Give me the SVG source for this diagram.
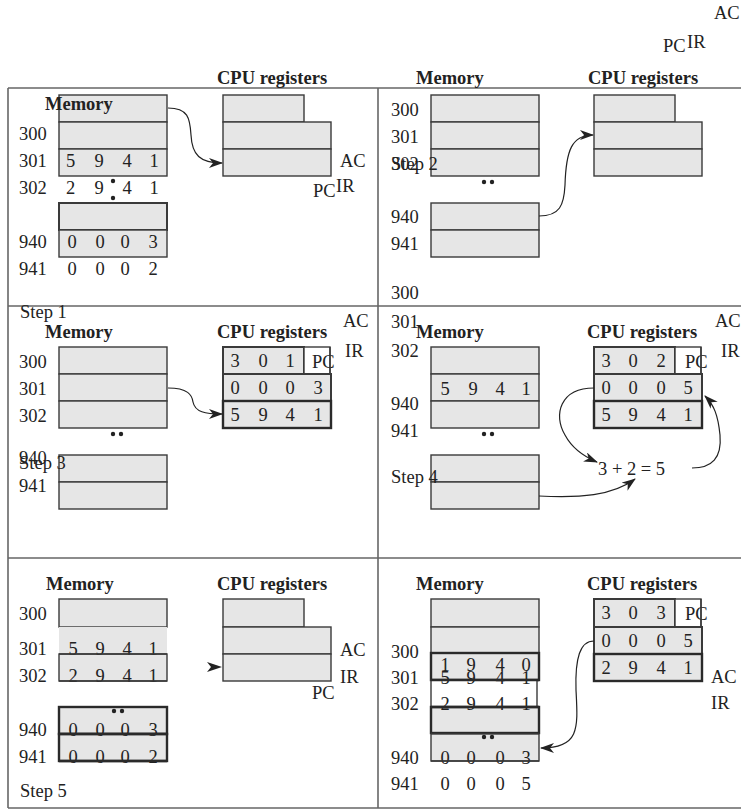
<svg xmlns="http://www.w3.org/2000/svg" width="741" height="810" viewBox="0 0 741 810">
<style>
.f{stroke:#666;stroke-width:1.6;fill:none}
.b{fill:#e6e6e6;stroke:#3a3a3a;stroke-width:1.4}
.bt{fill:#e6e6e6;stroke:#2a2a2a;stroke-width:2.4}
.w{fill:#fff;stroke:#3a3a3a;stroke-width:1.4}
.g{fill:#e6e6e6;stroke:none}
text{font-family:"Liberation Serif","Times New Roman",serif;font-size:18.5px;fill:#222}
.h{font-weight:bold}
.c{stroke:#222;stroke-width:1.2;fill:none;marker-end:url(#ah)}
.dot{fill:#222}
.ln{stroke:#3a3a3a;stroke-width:1.4}
.lt{stroke:#2a2a2a;stroke-width:2.4}
</style>
<defs>
<marker id="ah" markerWidth="14" markerHeight="10" refX="13" refY="5" orient="auto" markerUnits="userSpaceOnUse">
<path d="M0,0 L14,5 L0,10 L4,5 z" fill="#222"/>
</marker>
</defs>
<rect width="741" height="810" fill="#fff"/>
<g id="frame">
<line class="f" x1="8" y1="88" x2="741" y2="88"/>
<line class="f" x1="8" y1="88" x2="8" y2="808"/>
<line class="f" x1="378" y1="88" x2="378" y2="808"/>
<line class="f" x1="8" y1="306" x2="741" y2="306"/>
<line class="f" x1="8" y1="558" x2="741" y2="558"/>
<line class="f" x1="8" y1="808" x2="741" y2="808"/>
</g>
<g id="top-labels">
<text x="714" y="19">AC</text>
<text x="663" y="52">PC</text>
<text x="687" y="48">IR</text>
</g>
<g id="step1">
<rect class="b" x="59" y="95" width="108" height="27"/>
<rect class="b" x="59" y="122" width="108" height="27"/>
<rect class="b" x="59" y="149" width="108" height="27"/>
<rect class="b" x="59" y="203" width="108" height="27" style="stroke-width:2"/>
<rect class="b" x="59" y="230" width="108" height="27"/>
<text class="h" x="45" y="110">Memory</text>
<text class="h" x="217" y="84">CPU registers</text>
<text x="19" y="140">300</text>
<text x="19" y="167">301</text>
<text x="66 94.5 122.5 149.5" y="167">5941</text>
<text x="19" y="194">302</text>
<text x="66 94.5 122.5 149.5" y="194">2941</text>
<circle class="dot" cx="113" cy="181" r="2.2"/>
<circle class="dot" cx="113" cy="198" r="2.2"/>
<text x="19" y="248">940</text>
<text x="67.5 95.5 120.5 148.5" y="248">0003</text>
<text x="19" y="275">941</text>
<text x="67.5 95.5 120.5 148.5" y="275">0002</text>
<rect class="b" x="223" y="95" width="81" height="27"/>
<rect class="b" x="223" y="122" width="108" height="27"/>
<rect class="b" x="223" y="149" width="108" height="27"/>
<text x="340" y="167">AC</text>
<text x="313" y="197">PC</text>
<text x="336" y="192">IR</text>
</g>
<g id="step2">
<rect class="b" x="431" y="95" width="108" height="27"/>
<rect class="b" x="431" y="122" width="108" height="27"/>
<rect class="b" x="431" y="149" width="108" height="27"/>
<rect class="b" x="431" y="203" width="108" height="27"/>
<rect class="b" x="431" y="230" width="108" height="27"/>
<text class="h" x="416" y="84">Memory</text>
<text class="h" x="588" y="84">CPU registers</text>
<text x="391" y="116">300</text>
<text x="391" y="143">301</text>
<text x="391" y="170">302</text>
<text x="391" y="170">Step 2</text>
<circle class="dot" cx="484" cy="182" r="2.2"/>
<circle class="dot" cx="492" cy="182" r="2.2"/>
<text x="391" y="223">940</text>
<text x="391" y="250">941</text>
<text x="391" y="299">300</text>
<rect class="b" x="594" y="95" width="81" height="27"/>
<rect class="b" x="594" y="122" width="108" height="27"/>
<rect class="b" x="594" y="149" width="108" height="27"/>
</g>
<g id="step3">
<text x="20" y="318">Step 1</text>
<text class="h" x="45" y="338">Memory</text>
<text class="h" x="217" y="338">CPU registers</text>
<text x="343" y="327">AC</text>
<text x="345" y="357">IR</text>
<rect class="b" x="59" y="347" width="108" height="27"/>
<rect class="b" x="59" y="374" width="108" height="27"/>
<rect class="b" x="59" y="401" width="108" height="27"/>
<text x="19" y="368">300</text>
<text x="19" y="395">301</text>
<text x="19" y="422">302</text>
<circle class="dot" cx="113" cy="434" r="2.2"/>
<circle class="dot" cx="121" cy="434" r="2.2"/>
<rect class="b" x="59" y="455" width="108" height="27"/>
<rect class="b" x="59" y="482" width="108" height="27"/>
<text x="19" y="464">940</text>
<text x="19" y="469">Step 3</text>
<text x="19" y="492">941</text>
<rect class="b" x="223" y="347" width="81" height="27" style="stroke-width:2"/>
<rect class="w" x="304" y="347" width="26" height="27"/>
<text x="230.5 258.5 285.5" y="367">301</text>
<text x="312" y="368">PC</text>
<line class="ln" x1="330" y1="347" x2="330" y2="374"/>
<rect class="b" x="223" y="374" width="108" height="27" style="stroke-width:2"/>
<text x="230.5 258.5 285.5 313.5" y="394">0003</text>
<rect class="bt" x="223" y="401" width="108" height="27"/>
<text x="230.5 258.5 285.5 313.5" y="421">5941</text>
</g>
<g id="step4">
<text x="391" y="328">301</text>
<text class="h" x="416" y="338">Memory</text>
<text x="391" y="357">302</text>
<rect class="b" x="431" y="347" width="108" height="27"/>
<rect class="b" x="431" y="374" width="108" height="27"/>
<rect class="b" x="431" y="401" width="108" height="27"/>
<text x="440.5 468.5 495.5 521.5" y="395">5941</text>
<text x="391" y="410">940</text>
<text x="391" y="437">941</text>
<circle class="dot" cx="484" cy="434" r="2.2"/>
<circle class="dot" cx="492" cy="434" r="2.2"/>
<rect class="b" x="431" y="455" width="108" height="27"/>
<rect class="b" x="431" y="482" width="108" height="27"/>
<text x="391" y="483">Step 4</text>
<text class="h" x="587" y="338">CPU registers</text>
<text x="715" y="327">AC</text>
<text x="721" y="357">IR</text>
<rect class="b" x="594" y="347" width="81" height="27" style="stroke-width:2"/>
<rect class="w" x="675" y="347" width="26" height="27"/>
<text x="601.5 628.5 656.5" y="367">302</text>
<text x="685" y="368">PC</text>
<line class="ln" x1="701" y1="347" x2="701" y2="374"/>
<rect class="b" x="594" y="374" width="108" height="27" style="stroke-width:2"/>
<text x="601.5 628.5 656.5 683.5" y="394">0005</text>
<rect class="bt" x="594" y="401" width="108" height="27"/>
<text x="601.5 628.5 656.5 683.5" y="421">5941</text>
<text x="598" y="475">3 + 2 = 5</text>
</g>
<g id="step5">
<text class="h" x="46" y="590">Memory</text>
<text class="h" x="217" y="590">CPU registers</text>
<rect class="b" x="59" y="599" width="108" height="28"/>
<rect class="g" x="59" y="627" width="108" height="27"/>
<rect class="b" x="59" y="654" width="108" height="27"/>
<text x="19" y="620">300</text>
<text x="19" y="655">301</text>
<text x="68.5 95.5 122.5 148.5" y="655">5941</text>
<line class="ln" x1="59" y1="654" x2="167" y2="654"/>
<text x="19" y="682">302</text>
<text x="68.5 95.5 122.5 148.5" y="682">2941</text>
<line class="ln" x1="59" y1="681" x2="167" y2="681"/>
<rect class="bt" x="59" y="707" width="108" height="27"/>
<rect class="bt" x="59" y="734" width="108" height="27"/>
<circle class="dot" cx="114" cy="711" r="2.2"/>
<circle class="dot" cx="122" cy="711" r="2.2"/>
<text x="19" y="736">940</text>
<text x="68.5 95.5 120.5 148.5" y="736">0003</text>
<line class="lt" x1="59" y1="734" x2="167" y2="734"/>
<text x="19" y="763">941</text>
<text x="68.5 95.5 120.5 148.5" y="763">0002</text>
<line class="lt" x1="59" y1="761" x2="167" y2="761"/>
<text x="20" y="797">Step 5</text>
<rect class="b" x="223" y="599" width="81" height="28"/>
<rect class="b" x="223" y="627" width="108" height="27"/>
<rect class="b" x="223" y="654" width="108" height="27"/>
<text x="340" y="656">AC</text>
<text x="340" y="683">IR</text>
<text x="312" y="699">PC</text>
</g>
<g id="step6">
<text class="h" x="416" y="590">Memory</text>
<text class="h" x="587" y="590">CPU registers</text>
<rect class="b" x="431" y="599" width="108" height="28"/>
<rect class="b" x="431" y="627" width="108" height="26"/>
<rect class="bt" x="431" y="653" width="108" height="27"/>
<rect class="w" x="431" y="680" width="106" height="27"/>
<rect class="bt" x="431" y="707" width="108" height="26"/>
<rect class="b" x="431" y="734" width="108" height="27"/>
<text x="391" y="658">300</text>
<text x="440.5 466.5 495.5 521.5" y="671">1940</text>
<text x="391" y="684">301</text>
<text x="440.5 466.5 495.5 521.5" y="684">5941</text>
<line class="lt" x1="431" y1="680" x2="539" y2="680"/>
<text x="391" y="710">302</text>
<text x="440.5 466.5 495.5 521.5" y="710">2941</text>
<line class="lt" x1="431" y1="707" x2="539" y2="707"/>
<circle class="dot" cx="484" cy="737" r="2.2"/>
<circle class="dot" cx="492" cy="737" r="2.2"/>
<text x="391" y="764">940</text>
<text x="440.5 466.5 495.5 521.5" y="764">0003</text>
<line class="ln" x1="431" y1="761" x2="539" y2="761"/>
<text x="391" y="790">941</text>
<text x="440.5 466.5 495.5 521.5" y="790">0005</text>
<rect class="b" x="594" y="599" width="81" height="28" style="stroke-width:2"/>
<rect class="w" x="675" y="599" width="26" height="28"/>
<text x="601.5 628.5 656.5" y="619">303</text>
<text x="685" y="620">PC</text>
<line class="ln" x1="701" y1="599" x2="701" y2="627"/>
<rect class="b" x="594" y="627" width="108" height="27" style="stroke-width:2"/>
<text x="601.5 628.5 656.5 683.5" y="647">0005</text>
<rect class="bt" x="594" y="654" width="108" height="27"/>
<text x="601.5 628.5 656.5 683.5" y="674">2941</text>
<text x="711" y="683">AC</text>
<text x="711" y="709">IR</text>
</g>
<g id="connectors">
<path class="c" d="M168,108 C188,108 190,118 191,135 C192,155 200,163 222,163"/>
<path class="c" d="M539,216 C560,216 564,205 565,185 C566,150 572,135 593,135"/>
<path class="c" d="M168,388 C188,388 192,395 193,402 C195,412 205,414 222,414"/>
<path class="c" d="M594,388 C560,388 553,415 565,435 C573,450 585,457 597,462"/>
<path class="c" d="M692,468 C712,468 722,458 720,435 C718,415 714,405 705,396"/>
<path class="c" d="M539,496 C580,498 612,496 635,479"/>
<path d="M207,662 L222,667 L207,672 L211,667 z" fill="#222"/>
<path class="c" d="M594,641 C580,641 575,658 576,690 C578,728 580,748 541,748"/>
</g>
</svg>
